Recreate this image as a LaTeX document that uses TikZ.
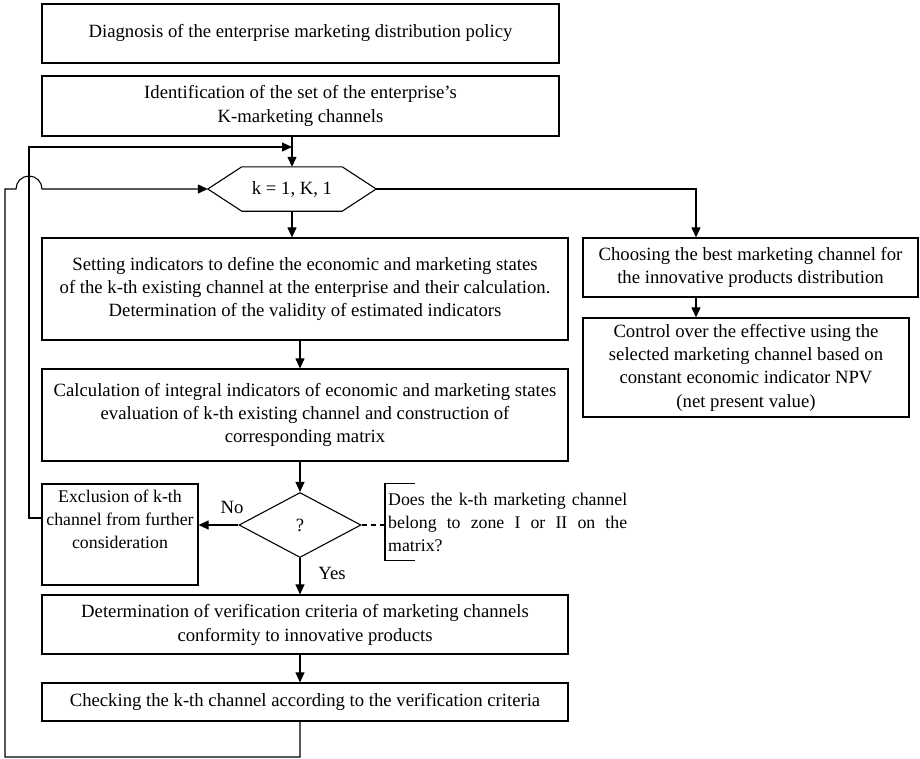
\documentclass[tikz,border=0pt]{standalone}
\usepackage{fontspec}
\setmainfont{Liberation Serif}
\usetikzlibrary{arrows.meta,shapes.geometric,calc}
\begin{document}
\begin{tikzpicture}[x=1pt,y=-1pt,
  txt/.style={font=\fontsize{18.7}{23.3}\selectfont},
  smalltxt/.style={font=\fontsize{17.8}{23}\selectfont},
  box/.style={draw, line width=1.2pt, rectangle, inner sep=0pt, align=center, txt},
  conn/.style={line width=1.1pt},
  arr/.style={line width=1.1pt, -{Triangle[length=10pt,width=9pt]}},
]
\useasboundingbox (0,0) rectangle (920,758);

\node[box, minimum width=517, minimum height=59] (b1) at (300.5,33.5)
  {\raisebox{5pt}{Diagnosis of the enterprise marketing distribution policy}};
\node[box, minimum width=517, minimum height=60] (b2) at (300.5,106)
  {Identification of the set of the enterprise’s\\K-marketing channels};
\node[inner sep=0pt, minimum width=168, minimum height=44, txt] (hex) at (292,189) {k = 1, K, 1};
\draw[line width=1.1pt] (hex.west) -- ($(hex.north west)+(34,0)$) -- ($(hex.north east)+(-34,0)$)
  -- (hex.east) -- ($(hex.south east)+(-34,0)$) -- ($(hex.south west)+(34,0)$) -- cycle;
\node[box, minimum width=526, minimum height=102] (b3) at (305,289)
  {Setting indicators to define the economic and marketing states\\
   of the k-th existing channel at the enterprise and their calculation.\\
   Determination of the validity of estimated indicators};
\node[box, minimum width=335, minimum height=59] (ch) at (750.5,267.5)
  {Choosing the best marketing channel for\\the innovative products distribution};
\node[box, minimum width=326, minimum height=99] (ct) at (746,367.5)
  {Control over the effective using the\\selected marketing channel based on\\constant economic indicator NPV\\(net present value)};
\node[box, minimum width=526, minimum height=92] (b4) at (305,415)
  {Calculation of integral indicators of economic and marketing states\\
   evaluation of k-th existing channel and construction of\\
   corresponding matrix};
\node[box, smalltxt, minimum width=156, minimum height=101] (ex) at (120,534.5)
  {Exclusion of k-th\\channel from further\\consideration\\ \strut};
\node[draw, diamond, line width=1.1pt, minimum width=122, minimum height=65, aspect=1.88, inner sep=0pt, txt] (dia) at (300,525) {?};
\node[anchor=west, inner xsep=3pt, inner ysep=0pt, minimum height=76, align=left, smalltxt] (q) at (385,522)
  {\makebox[239pt][s]{Does the k-th marketing channel}\\
   \makebox[239pt][s]{belong to zone I or II on the}\\
   matrix?};
\draw[line width=1.1pt] ($(q.north west)+(30,0)$) -- (q.north west) -- (q.south west) -- ($(q.south west)+(30,0)$);
\node[box, minimum width=526, minimum height=59] (b5) at (305,624.5)
  {\raisebox{-6pt}{\begin{tabular}{@{}c@{}}Determination of verification criteria of marketing channels\\[0.6pt]conformity to innovative products\end{tabular}}};
\node[box, minimum width=526, minimum height=38] (b6) at (305,702)
  {Checking the k-th channel according to the verification criteria};
\node[txt, inner sep=0pt] (no) at (232,507) {No};
\node[txt, inner sep=0pt] (yes) at (332,573) {Yes};

\coordinate (L0) at (5,0);
\coordinate (L1) at (29,0);
\coordinate (rx) at (696,0);

% main flow
\draw[arr] (hex.north |- b2.south) -- (hex.north);
\draw[arr] (hex.south) -- (hex.south |- b3.north);
\draw[arr] (dia.north |- b3.south) -- (dia.north |- b4.north);
\draw[arr] (dia.north |- b4.south) -- (dia.north);
\draw[arr] (dia.south) -- (dia.south |- b5.north);
\draw[arr] (dia.south |- b5.south) -- (dia.south |- b6.north);
\draw[arr] (dia.west) -- (ex.east |- dia.west);
\draw[conn, dash pattern=on 5pt off 4pt] (dia.east) -- (q.west |- dia.east);
\draw[arr] (hex.east) -| (rx |- ch.north);
\draw[arr] (rx |- ch.south) -- (rx |- ct.north);

% loops
\draw[arr] (ex.west |- 0,518) -| (L1 |- 0,147) -- (hex.north |- 0,147);
\draw[arr] (dia.south |- b6.south) -- (dia.south |- 0,757) -| (L0 |- 0,189) -- (16,189)
  arc[start angle=180, end angle=0, radius=13pt] -- (hex.west);
\end{tikzpicture}
\end{document}
